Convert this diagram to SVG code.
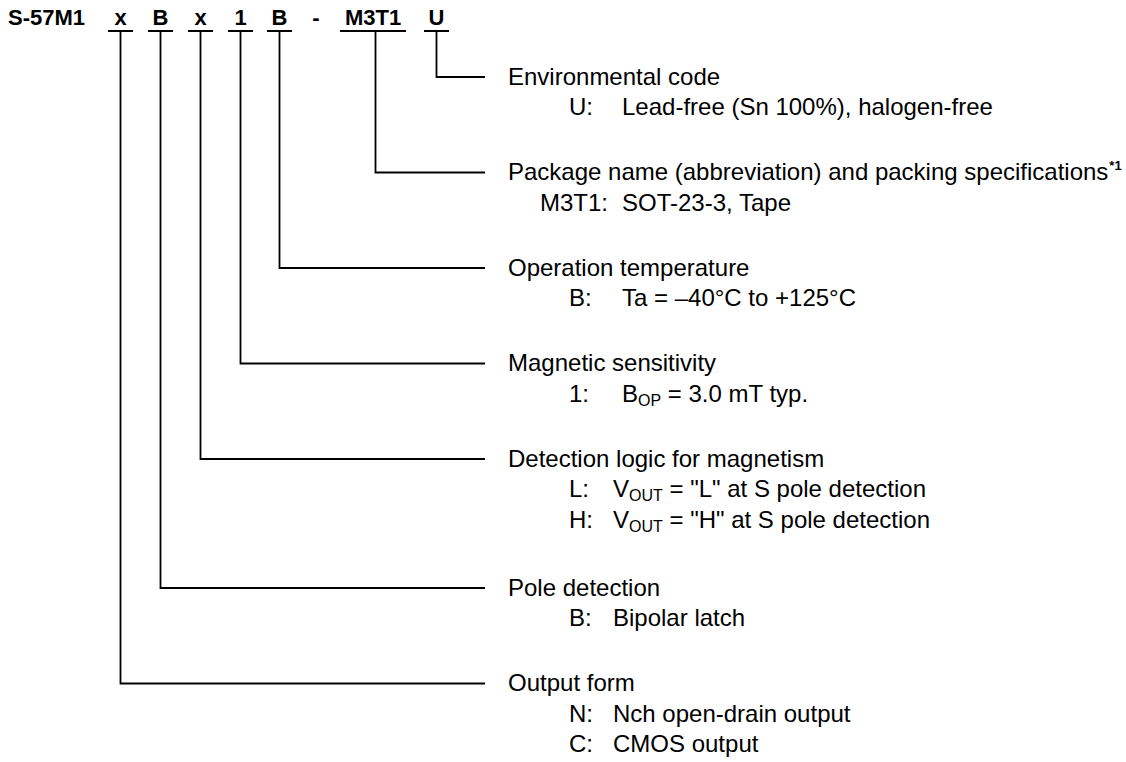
<svg xmlns="http://www.w3.org/2000/svg" width="1126" height="762" viewBox="0 0 1126 762">
<style>
.t{font-family:"Liberation Sans",Arial,Helvetica,sans-serif;font-size:24px;fill:#000}
.h{font-weight:bold;font-size:22px}
.c{text-anchor:middle}
.s{font-size:16px}
.sup{font-weight:bold;font-size:13px}
.ln{stroke:#000;stroke-width:1.8;fill:none}
</style>
<rect width="1126" height="762" fill="#fff"/>
<g id="title">
<text class="t h" x="8" y="25">S-57M1</text>
<text class="t h c" x="120.5" y="25">x</text>
<text class="t h c" x="160.5" y="25">B</text>
<text class="t h c" x="200.5" y="25">x</text>
<text class="t h c" x="240.5" y="25">1</text>
<text class="t h c" x="279.5" y="25">B</text>
<text class="t h c" x="316" y="25">-</text>
<text class="t h c" x="373" y="25">M3T1</text>
<text class="t h c" x="436.5" y="25">U</text>
</g>
<g id="connectors" class="ln">
<path d="M108 31H133M148 31H173M188 31H213M228 31H253M267 31H292M340 31H406M424 31H449"/>
<path d="M436.5 31V77H485"/>
<path d="M375.5 31V172.5H485"/>
<path d="M279.5 31V268H485"/>
<path d="M240.5 31V363.5H485"/>
<path d="M200.5 31V459H485"/>
<path d="M160.5 31V588H485"/>
<path d="M120.5 31V683.5H485"/>
</g>
<g id="environmental-code">
<text class="t" x="508" y="84.5">Environmental code</text>
<text class="t" x="569" y="115">U:</text>
<text class="t" x="622" y="115">Lead-free (Sn 100%), halogen-free</text>
</g>
<g id="package-name">
<text class="t" x="508" y="180">Package name (abbreviation) and packing specifications<tspan class="sup" dx="1" dy="-10">*1</tspan></text>
<text class="t" x="540" y="210.5">M3T1:</text>
<text class="t" x="622" y="210.5">SOT-23-3, Tape</text>
</g>
<g id="operation-temperature">
<text class="t" x="508" y="275.5">Operation temperature</text>
<text class="t" x="569" y="306">B:</text>
<text class="t" x="622" y="306">Ta = –40°C to +125°C</text>
</g>
<g id="magnetic-sensitivity">
<text class="t" x="508" y="371">Magnetic sensitivity</text>
<text class="t" x="569" y="401.5">1:</text>
<text class="t" x="622" y="401.5">B<tspan class="s" dy="4">OP</tspan><tspan dy="-4"> = 3.0 mT typ.</tspan></text>
</g>
<g id="detection-logic">
<text class="t" x="508" y="466.5">Detection logic for magnetism</text>
<text class="t" x="569" y="497">L:</text>
<text class="t" x="613" y="497">V<tspan class="s" dy="4">OUT</tspan><tspan dy="-4"> = "L" at S pole detection</tspan></text>
<text class="t" x="569" y="527.5">H:</text>
<text class="t" x="613" y="527.5">V<tspan class="s" dy="4">OUT</tspan><tspan dy="-4"> = "H" at S pole detection</tspan></text>
</g>
<g id="pole-detection">
<text class="t" x="508" y="595.5">Pole detection</text>
<text class="t" x="569" y="626">B:</text>
<text class="t" x="613" y="626">Bipolar latch</text>
</g>
<g id="output-form">
<text class="t" x="508" y="691">Output form</text>
<text class="t" x="569" y="721.5">N:</text>
<text class="t" x="613" y="721.5">Nch open-drain output</text>
<text class="t" x="569" y="752">C:</text>
<text class="t" x="613" y="752">CMOS output</text>
</g>
</svg>
